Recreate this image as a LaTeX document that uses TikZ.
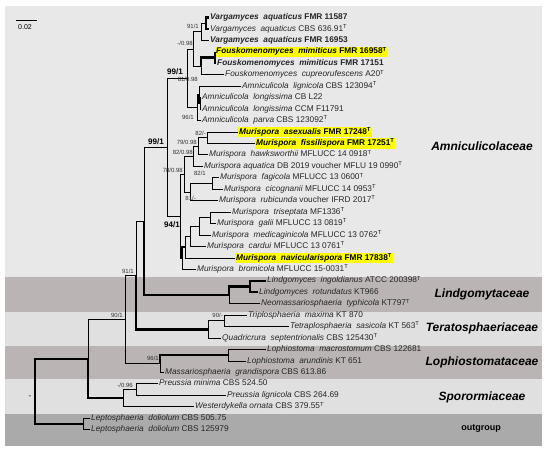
\documentclass[tikz,border=0pt]{standalone}
\usepackage{fontspec}
\setmainfont{Liberation Sans}
\definecolor{bandA}{RGB}{232,232,232}
\definecolor{bandB}{RGB}{186,180,180}
\definecolor{bandC}{RGB}{224,224,224}
\definecolor{bandO}{RGB}{170,170,170}
\definecolor{hlyel}{RGB}{255,255,0}
\begin{document}
\begin{tikzpicture}[x=1pt,y=-1pt,
  br/.style={line width=0.8pt},
  bb/.style={line width=2.2pt},
  tx/.style={anchor=west,inner xsep=1pt,inner ysep=1.2pt,font=\fontsize{8.3}{9}\selectfont,text=black!85,text height=6pt,text depth=1.8pt},
  hl/.style={tx,fill=hlyel,text=black},
  sl/.style={anchor=east,inner sep=0pt,font=\fontsize{6}{7}\selectfont,text=black!80},
  slb/.style={anchor=east,inner sep=0pt,font=\fontsize{8}{9}\selectfont\bfseries},
  fam/.style={inner sep=0pt,font=\fontsize{12}{14}\selectfont\bfseries\itshape}]
\useasboundingbox (0,0) rectangle (550,454);
\fill[white] (0,0) rectangle (550,454);
% bands
\fill[bandA] (5,6) rectangle (542,277);
\fill[bandB] (5,277) rectangle (542,312);
\fill[bandC] (5,312) rectangle (542,346);
\fill[bandB] (5,346) rectangle (542,379);
\fill[bandC] (5,379) rectangle (542,414);
\fill[bandO] (5,414) rectangle (542,446);
% scale bar
\coordinate (sbA) at (16,20.5);
\coordinate (sbB) at (37,20.5);
\draw[line width=1.3pt] (sbA) -- (sbB);
\node[inner sep=0pt,font=\fontsize{7}{8}\selectfont] (sbL) at (25,27) {0.02};
% tips
\node[tx] (t1) at (209,17.5) {\textbf{\textit{Vargamyces~ aquaticus} FMR 11587}};
\node[tx] (t2) at (209,28.95) {\textit{Vargamyces~ aquaticus} CBS 636.91\textsuperscript{T}};
\node[tx] (t3) at (209,40.4) {\textbf{\textit{Vargamyces~ aquaticus} FMR 16953}};
\node[hl] (t4) at (215,51.85) {\textbf{\textit{Fouskomenomyces~ mimiticus} FMR 16958\textsuperscript{T}}};
\node[tx] (t5) at (216,63.3) {\textbf{\textit{Fouskomenomyces~ mimiticus} FMR 17151}};
\node[tx] (t6) at (224,74.75) {\textit{Fouskomenomyces~ cupreorufescens} A20\textsuperscript{T}};
\node[tx] (t7) at (241,86.2) {\textit{Amniculicola~ lignicola} CBS 123094\textsuperscript{T}};
\node[tx] (t8) at (201,97.65) {\textit{Amniculicola~ longissima} CB L22};
\node[tx] (t9) at (201,109.1) {\textit{Amniculicola~ longissima} CCM F11791};
\node[tx] (t10) at (201,120.55) {\textit{Amniculicola~ parva} CBS 123092\textsuperscript{T}};
\node[hl] (t11) at (238,132) {\textbf{\textit{Murispora~ asexualis} FMR 17248\textsuperscript{T}}};
\node[hl] (t12) at (255,143.45) {\textbf{\textit{Murispora~ fissilispora} FMR 17251\textsuperscript{T}}};
\node[tx] (t13) at (208,154.9) {\textit{Murispora~ hawksworthii} MFLUCC 14 0918\textsuperscript{T}};
\node[tx] (t14) at (203,166.35) {\textit{Murispora aquatica} DB 2019 voucher MFLU 19 0990\textsuperscript{T}};
\node[tx] (t15) at (219,177.8) {\textit{Murispora~ fagicola} MFLUCC 13 0600\textsuperscript{T}};
\node[tx] (t16) at (223,189.25) {\textit{Murispora~ cicognanii} MFLUCC 14 0953\textsuperscript{T}};
\node[tx] (t17) at (218,200.7) {\textit{Murispora~ rubicunda} voucher IFRD 2017\textsuperscript{T}};
\node[tx] (t18) at (231,212.15) {\textit{Murispora~ triseptata} MF1336\textsuperscript{T}};
\node[tx] (t19) at (216,223.6) {\textit{Murispora~ galii} MFLUCC 13 0819\textsuperscript{T}};
\node[tx] (t20) at (211,235.05) {\textit{Murispora~ medicaginicola} MFLUCC 13 0762\textsuperscript{T}};
\node[tx] (t21) at (206,246.5) {\textit{Murispora~ cardui} MFLUCC 13 0761\textsuperscript{T}};
\node[hl] (t22) at (235,257.95) {\textbf{\textit{Murispora~ navicularispora} FMR 17838\textsuperscript{T}}};
\node[tx] (t23) at (196,269.4) {\textit{Murispora~ bromicola} MFLUCC 15-0031\textsuperscript{T}};
\node[tx] (t24) at (266,280.85) {\textit{Lindgomyces~ ingoldianus} ATCC 200398\textsuperscript{T}};
\node[tx] (t25) at (258,292.3) {\textit{Lindgomyces~ rotundatus} KT966};
\node[tx] (t26) at (260,303.75) {\textit{Neomassariosphaeria~ typhicola} KT797\textsuperscript{T}};
\node[tx] (t27) at (247,315.2) {\textit{Triplosphaeria~ maxima} KT 870};
\node[tx] (t28) at (289,326.65) {\textit{Tetraplosphaeria~ sasicola} KT 563\textsuperscript{T}};
\node[tx] (t29) at (221,338.1) {\textit{Quadricrura~ septentrionalis} CBS 125430\textsuperscript{T}};
\node[tx] (t30) at (266,349.55) {\textit{Lophiostoma~ macrostomum} CBS 122681};
\node[tx] (t31) at (246,361) {\textit{Lophiostoma~ arundinis} KT 651};
\node[tx] (t32) at (164,372.45) {\textit{Massariosphaeria~ grandispora} CBS 613.86};
\node[tx] (t33) at (158,383.9) {\textit{Preussia minima} CBS 524.50};
\node[tx] (t34) at (226,395.35) {\textit{Preussia lignicola} CBS 264.69};
\node[tx] (t35) at (194,406.8) {\textit{Westerdykella ornata} CBS 379.55\textsuperscript{T}};
\node[tx] (t36) at (90,418.25) {\textit{Leptosphaeria~ doliolum} CBS 505.75};
\node[tx] (t37) at (90,429.7) {\textit{Leptosphaeria~ doliolum} CBS 125979};
% internal nodes
\coordinate (nV12) at (206,23.2);
\coordinate (nV) at (201,31.8);
\coordinate (nF12) at (215,57.6);
\coordinate (nF) at (201,66.2);
\coordinate (nVF) at (193,49);
\coordinate (nLL) at (200,103.4);
\coordinate (nB) at (199,94.8);
\coordinate (nA) at (197,107.7);
\coordinate (nP) at (187,78.3);
\coordinate (nAS) at (207,137.7);
\coordinate (nHaw) at (198,146.3);
\coordinate (nAqu) at (193,156.3);
\coordinate (nFC) at (212,183.5);
\coordinate (nFCR) at (190,192.1);
\coordinate (nMA) at (184,174.2);
\coordinate (nTG) at (210,217.9);
\coordinate (nTGM) at (199,226.5);
\coordinate (nTGMC) at (190,236.5);
\coordinate (nMB) at (185,247.2);
\coordinate (nMBb) at (182,258.3);
\coordinate (nM) at (180,216.3);
\coordinate (nAm) at (167,147.3);
\coordinate (nLi2) at (250,286.6);
\coordinate (nLi) at (229,295.2);
\coordinate (nAL) at (144,221.2);
\coordinate (nT2) at (224,320.9);
\coordinate (nT) at (208,329.5);
\coordinate (nALT) at (136,275.4);
\coordinate (nLm) at (228,355.3);
\coordinate (nL) at (160,363.9);
\coordinate (nALTL) at (125,319.7);
\coordinate (nPr) at (136,389.6);
\coordinate (nS) at (123,398.2);
\coordinate (nIn) at (88,359);
\coordinate (nLep) at (83,424);
\coordinate (root) at (35,391.5);
% branches
\draw[bb] (nV12) |- (t1.west); \draw[bb] (nV12) |- (t2.west);
\draw[br] (nV) |- (nV12); \draw[br] (nV) |- (t3.west);
\draw[bb] (nF12) |- (t4.west); \draw[bb] (nF12) |- (t5.west);
\draw[bb] (nF) |- (nF12); \draw[br] (nF) |- (t6.west);
\draw[br] (nVF) |- (nV); \draw[br] (nVF) |- (nF);
\draw[br] (nLL) |- (t8.west); \draw[br] (nLL) |- (t9.west);
\draw[br] (nB) |- (t7.west); \draw[bb] (nB) |- (nLL);
\draw[br] (nA) |- (nB); \draw[br] (nA) |- (t10.west);
\draw[br] (nP) |- (nVF); \draw[br] (nP) |- (nA);
\draw[br] (nAS) |- (t11.west); \draw[br] (nAS) |- (t12.west);
\draw[br] (nHaw) |- (nAS); \draw[br] (nHaw) |- (t13.west);
\draw[br] (nAqu) |- (nHaw); \draw[br] (nAqu) |- (t14.west);
\draw[br] (nFC) |- (t15.west); \draw[br] (nFC) |- (t16.west);
\draw[br] (nFCR) |- (nFC); \draw[br] (nFCR) |- (t17.west);
\draw[br] (nMA) |- (nAqu); \draw[br] (nMA) |- (nFCR);
\draw[br] (nTG) |- (t18.west); \draw[br] (nTG) |- (t19.west);
\draw[br] (nTGM) |- (nTG); \draw[br] (nTGM) |- (t20.west);
\draw[br] (nTGMC) |- (nTGM); \draw[br] (nTGMC) |- (t21.west);
\draw[br] (nMB) |- (nTGMC); \draw[br] (nMB) |- (t22.west);
\draw[bb] (nMBb) |- (nMB); \draw[br] (nMBb) |- (t23.west);
\draw[br] (nM) |- (nMA); \draw[br] (nM) |- (nMBb);
\draw[br] (nAm) |- (nP); \draw[br] (nAm) |- (nM);
\draw[bb] (nLi2) |- (t24.west); \draw[bb] (nLi2) |- (t25.west);
\draw[bb] (nLi) |- (nLi2); \draw[br] (nLi) |- (t26.west);
\draw[br] (nAL) |- (nAm); \draw[bb] (nAL) |- (nLi);
\draw[br] (nT2) |- (t27.west); \draw[br] (nT2) |- (t28.west);
\draw[br] (nT) |- (nT2); \draw[br] (nT) |- (t29.west);
\draw[br] (nALT) |- (nAL); \draw[bb] (nALT) |- (nT);
\draw[br] (nLm) |- (t30.west); \draw[br] (nLm) |- (t31.west);
\draw[bb] (nL) |- (nLm); \draw[br] (nL) |- (t32.west);
\draw[br] (nALTL) |- (nALT); \draw[br] (nALTL) |- (nL);
\draw[br] (nPr) |- (t33.west); \draw[br] (nPr) |- (t34.west);
\draw[br] (nS) |- (nPr); \draw[br] (nS) |- (t35.west);
\draw[br] (nIn) |- (nALTL); \draw[bb] (nIn) |- (nS);
\draw[br] (nLep) |- (t36.west); \draw[br] (nLep) |- (t37.west);
\draw[bb] (root) |- (nIn); \draw[bb] (root) |- (nLep);
% support values
\node[sl] (s1) at (199,26) {91/1};
\node[sl] (s2) at (193,43) {-/0.98};
\node[slb] (s3) at (183,72) {99/1};
\node[sl] (s4) at (198,79.5) {81/0.98};
\node[sl] (s5) at (194,117) {96/1};
\node[sl] (s6) at (206,133) {82/-};
\node[sl] (s7) at (197,142.5) {79/0.98};
\node[sl] (s8) at (193,152.5) {82/0.98};
\node[sl] (s9) at (183,170) {78/0.98};
\node[sl] (s10) at (206,173) {82/1};
\node[sl] (s11) at (196,198) {81/-};
\node[slb] (s12) at (180,225) {94/1};
\node[slb] (s13) at (164,142) {99/1};
\node[sl] (s14) at (134,271) {91/1};
\node[sl] (s15) at (223,315) {90/-};
\node[sl] (s16) at (123,315) {90/1};
\node[sl] (s17) at (159,358) {96/1};
\node[sl] (s18) at (133,385) {-/0.96};
\node[inner sep=0pt,font=\fontsize{8}{9}\selectfont] (s19) at (30,397) {-};
% family labels
\node[fam] (f1) at (482,146) {Amniculicolaceae};
\node[fam] (f2) at (482,294) {Lindgomytaceae};
\node[fam] (f3) at (482,328) {Teratosphaeriaceae};
\node[fam] (f4) at (482,362) {Lophiostomataceae};
\node[fam] (f5) at (482,397) {Sporormiaceae};
\node[inner sep=0pt,font=\fontsize{9}{10}\selectfont\bfseries] (f6) at (481,429) {outgroup};
\end{tikzpicture}
\end{document}
